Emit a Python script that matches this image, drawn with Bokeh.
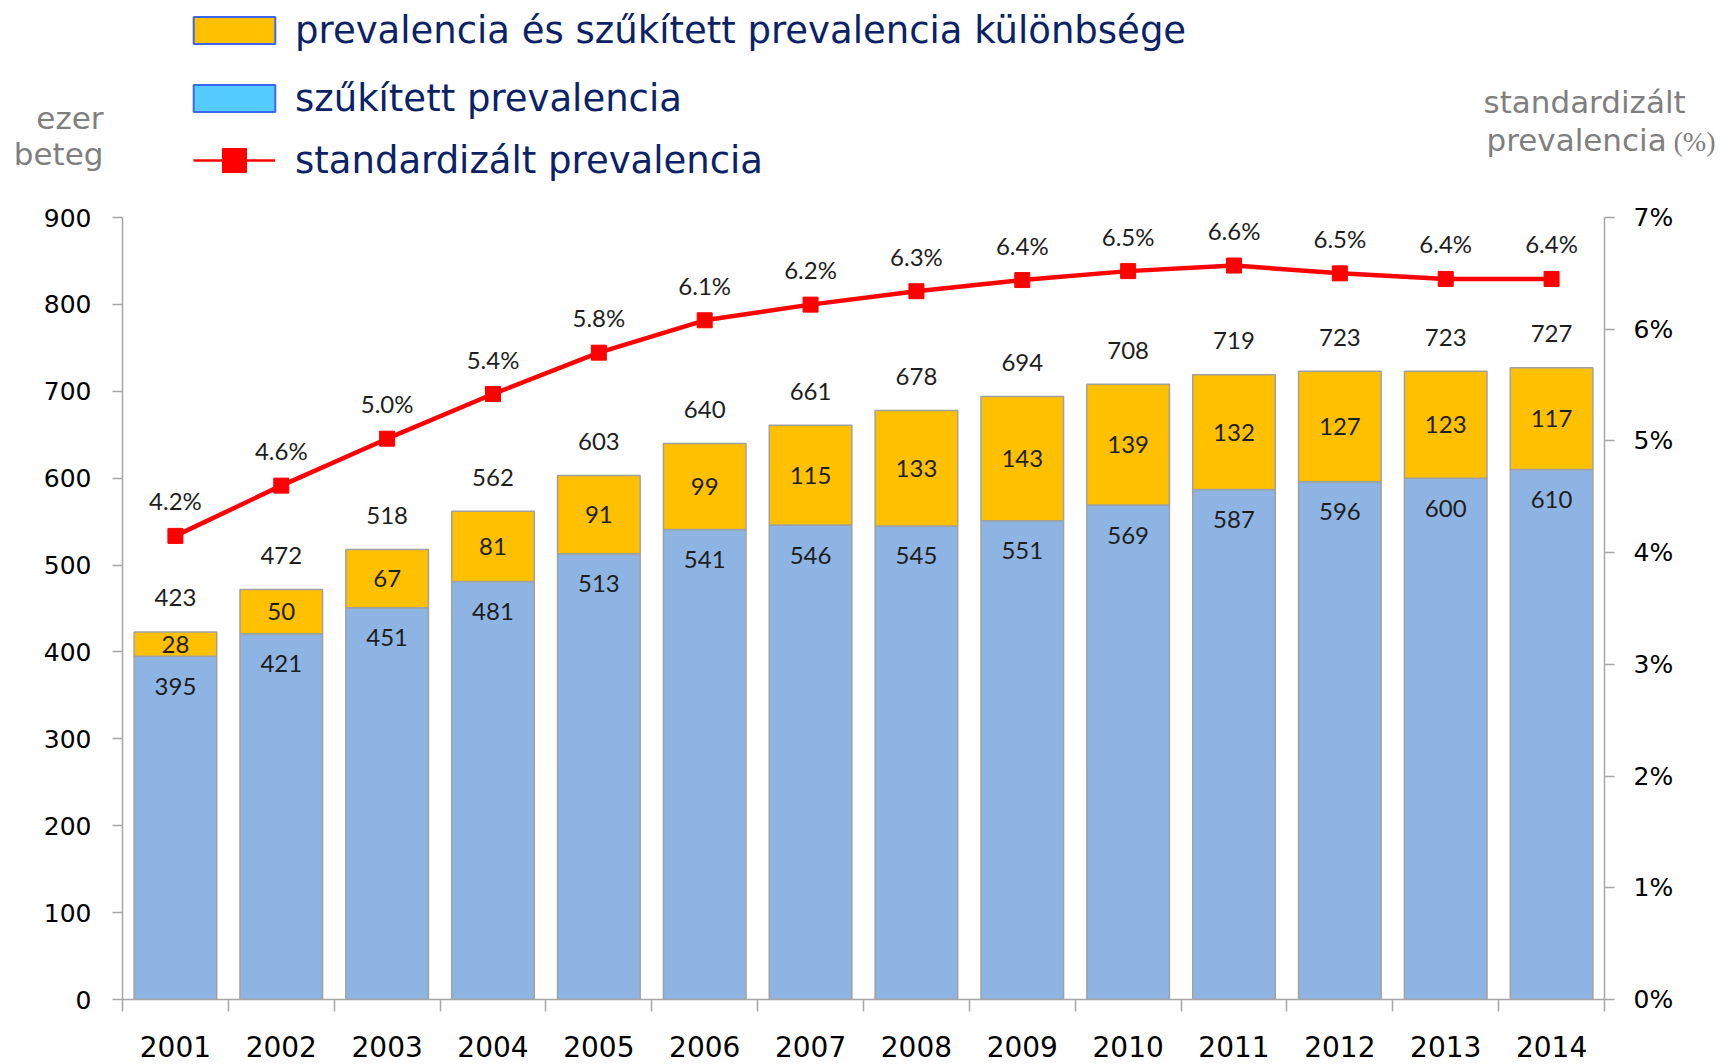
from bokeh.plotting import figure
from bokeh.layouts import column
from bokeh.models import (Range1d, LinearAxis, FixedTicker, PrintfTickFormatter,
                          ColumnDataSource, LabelSet, Label, Legend, LegendItem)
from bokeh.core.properties import value
from bokeh.embed import file_html
from bokeh.resources import INLINE

# ---------------- data ----------------
years = [2001, 2002, 2003, 2004, 2005, 2006, 2007, 2008, 2009, 2010, 2011, 2012, 2013, 2014]
year_labels = ["2001", "2002", "2003", "2004", "2005", "2006", "2007",
               "2008", "2009", "2010", "2011", "2012", "2013", "2014"]
narrow_prev = [395, 421, 451, 481, 513, 541, 546, 545, 551, 569, 587, 596, 600, 610]
prev_diff = [28, 50, 67, 81, 91, 99, 115, 133, 143, 139, 132, 127, 123, 117]
total_prev = [423, 472, 518, 562, 603, 640, 661, 678, 694, 708, 719, 723, 723, 727]
std_prev = [4.15, 4.60, 5.02, 5.42, 5.79, 6.08, 6.22, 6.34, 6.44, 6.52, 6.57, 6.50, 6.45, 6.45]
std_labels = ["4.2%", "4.6%", "5.0%", "5.4%", "5.8%", "6.1%", "6.2%", "6.3%",
              "6.4%", "6.5%", "6.6%", "6.5%", "6.4%", "6.4%"]
left_ticks = [0, 100, 200, 300, 400, 500, 600, 700, 800, 900]
right_ticks = [0, 1, 2, 3, 4, 5, 6, 7]

legend_texts = ["prevalencia és szűkített prevalencia különbsége",
                "szűkített prevalencia",
                "standardizált prevalencia"]

# ---------------- layout constants ----------------
W = 1720
HT = 190          # header (legend + axis titles)
HM = 872          # main chart
BL, BR, BT, BB = 122, 116, 27, 63

GOLD = "#FFC000"
BLUE = "#8EB4E3"
EDGE = "#A0A0A0"
RED = "#FF0000"
AXIS = "#A6A6A6"
NAVY = "#0B2266"
GREY = "#7F7F7F"
TXT = "#1E1E1E"
NAN = float("nan")

# ================= header figure =================
top = figure(width=W, height=HT, output_backend="svg", toolbar_location=None,
             x_range=Range1d(0, W), y_range=Range1d(HT, 0),
             x_axis_type=None, y_axis_type=None,
             min_border_left=0, min_border_right=0, min_border_top=0, min_border_bottom=0)
top.outline_line_color = None
top.background_fill_color = "white"
top.border_fill_color = "white"
if "frame_align" in top.properties():
    top.frame_align = False

# legend-only renderers (no visible data)
r_gold = top.vbar(x=[NAN], top=[NAN], width=1, fill_color=GOLD,
                  line_color="#3A66F0", line_width=2)
r_cyan = top.vbar(x=[NAN], top=[NAN], width=1, fill_color="#55CCFF",
                  line_color="#3A66F0", line_width=2)
r_line = top.line(x=[NAN], y=[NAN], line_color=RED, line_width=2.5)
r_sq = top.scatter(x=[NAN], y=[NAN], marker="square", fill_color=RED, line_color=RED)

leg_kw = dict(padding=0, margin=0, label_height=50,
              border_line_color=None, background_fill_alpha=0,
              label_text_font="DejaVu Sans", label_text_font_size="37px",
              label_text_color=NAVY)
# area swatches are drawn with a 10% inset, so the glyph box is enlarged
legend1 = Legend(items=[LegendItem(label=legend_texts[0], renderers=[r_gold]),
                        LegendItem(label=legend_texts[1], renderers=[r_cyan])],
                 location=(183, 67), glyph_width=102, glyph_height=34,
                 label_standoff=10, spacing=18, **leg_kw)
legend2 = Legend(items=[LegendItem(label=legend_texts[2], renderers=[r_line, r_sq])],
                 location=(193, 0), glyph_width=82, glyph_height=60,
                 label_standoff=20, spacing=0, **leg_kw)
top.add_layout(legend1)
top.add_layout(legend2)

def head_label(text, x, y, align, size, font="DejaVu Sans"):
    return Label(x=x, y=y, text=text, text_align=align, text_baseline="middle",
                 text_font=font, text_font_size=size, text_color=GREY)

top.add_layout(head_label("ezer", 103, 117.5, "right", "31px"))
top.add_layout(head_label("beteg", 103, 153.5, "right", "31px"))
top.add_layout(head_label("standardizált", 1483, 101.5, "left", "31px"))
top.add_layout(head_label("prevalencia", 1486, 139.5, "left", "31px"))
top.add_layout(head_label("(%)", 1673, 141, "left", "28px", "Liberation Serif"))

# ================= main chart =================
p = figure(width=W, height=HM, output_backend="svg", toolbar_location=None,
           x_range=Range1d(years[0] - 0.5, years[-1] + 0.5),
           y_range=Range1d(left_ticks[0], left_ticks[-1]),
           min_border_left=BL, min_border_right=BR,
           min_border_top=BT, min_border_bottom=BB)
p.outline_line_color = None
p.grid.visible = False
p.background_fill_color = "white"
p.border_fill_color = "white"
if "frame_align" in p.properties():
    p.frame_align = False

# x axis: labels at centres, ticks at category boundaries
xa = p.xaxis[0]
xa.ticker = FixedTicker(ticks=years,
                        minor_ticks=[y - 0.5 for y in years] + [years[-1] + 0.5])
xa.major_label_overrides = {y: s for y, s in zip(years, year_labels)}
xa.major_tick_line_color = None
xa.major_tick_out = 0
xa.major_tick_in = 0
xa.minor_tick_out = 12
xa.minor_tick_in = 0
xa.minor_tick_line_color = AXIS
xa.minor_tick_line_width = 1.5
xa.axis_line_color = AXIS
xa.axis_line_width = 1.5
xa.major_label_standoff = 24
xa.major_label_text_font = "DejaVu Sans"
xa.major_label_text_font_size = "28px"
xa.major_label_text_color = "black"

# left axis
ya = p.yaxis[0]
ya.ticker = FixedTicker(ticks=left_ticks)
ya.major_tick_out = 10
ya.major_tick_in = 0
ya.major_tick_line_color = AXIS
ya.major_tick_line_width = 1.5
ya.minor_tick_line_color = None
ya.axis_line_color = AXIS
ya.axis_line_width = 1.5
ya.major_label_standoff = 21
ya.major_label_text_font = "DejaVu Sans"
ya.major_label_text_font_size = "25px"
ya.major_label_text_color = "black"

# right axis
p.extra_y_ranges = {"pct": Range1d(right_ticks[0], right_ticks[-1])}
ra = LinearAxis(y_range_name="pct", ticker=FixedTicker(ticks=right_ticks),
                formatter=PrintfTickFormatter(format="%d%%"))
ra.major_tick_out = 10
ra.major_tick_in = 0
ra.major_tick_line_color = AXIS
ra.major_tick_line_width = 1.5
ra.minor_tick_line_color = None
ra.axis_line_color = AXIS
ra.axis_line_width = 1.5
ra.major_label_standoff = 19
ra.major_label_text_font = "DejaVu Sans"
ra.major_label_text_font_size = "25px"
ra.major_label_text_color = "black"
p.add_layout(ra, "right")

# ---------------- bars, line, labels ----------------
src = ColumnDataSource(dict(
    year=years,
    narrow=narrow_prev,
    total=total_prev,
    mid=[(n + t) / 2 for n, t in zip(narrow_prev, total_prev)],
    narrow_txt=[str(v) for v in narrow_prev],
    diff_txt=[str(v) for v in prev_diff],
    total_txt=[str(v) for v in total_prev],
    pct=std_prev,
    pct_txt=std_labels,
))

p.vbar(x="year", bottom=0, top="narrow", width=0.78, source=src,
       fill_color=BLUE, line_color=EDGE, line_width=1.5)
p.vbar(x="year", bottom="narrow", top="total", width=0.78, source=src,
       fill_color=GOLD, line_color=EDGE, line_width=1.5)

p.line(x="year", y="pct", source=src, y_range_name="pct", line_color=RED, line_width=4.5)
p.scatter(x="year", y="pct", source=src, y_range_name="pct", marker="square",
          size=15, fill_color=RED, line_color=RED)

lab_kw = dict(source=src, text_align="center", text_baseline="middle",
              text_font=value("Lato"), text_font_size=value("24px"), text_color=TXT)
p.add_layout(LabelSet(x="year", y="total", text="total_txt", y_offset=34, **lab_kw))
p.add_layout(LabelSet(x="year", y="mid", text="diff_txt", y_offset=0, **lab_kw))
p.add_layout(LabelSet(x="year", y="narrow", text="narrow_txt", y_offset=-30, **lab_kw))
p.add_layout(LabelSet(x="year", y="pct", text="pct_txt", y_range_name="pct",
                      y_offset=35, **lab_kw))

open("out.html", "w").write(file_html(column(top, p), INLINE))
